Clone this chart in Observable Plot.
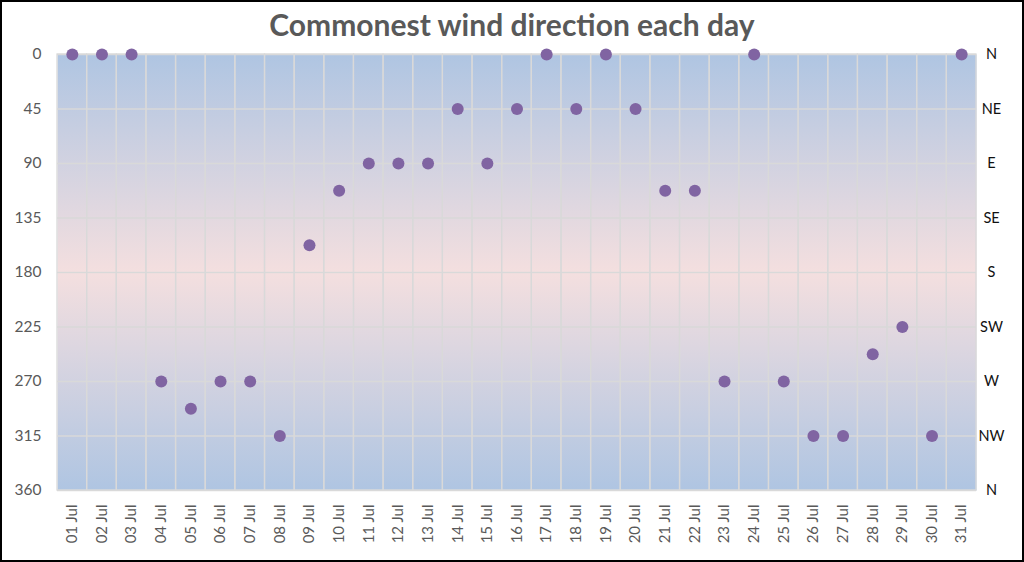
<!DOCTYPE html>
<html><head><meta charset="utf-8">
<script src="https://cdn.jsdelivr.net/npm/d3@7"></script>
<script src="https://cdn.jsdelivr.net/npm/@observablehq/plot@0.6"></script>
<style>
body{margin:0;background:#fff;}
#wrap{width:1024px;height:562px;box-sizing:border-box;border:2px solid #000;font-family:Lato,sans-serif;overflow:hidden;background:#fff}
#title{height:40px;line-height:44px;text-align:center;font-weight:bold;font-size:30px;color:#595959}
</style></head><body>
<div id="wrap"><div id="title">Commonest wind direction each day</div><div id="chart"></div></div>
<script>
const days = ["01 Jul","02 Jul","03 Jul","04 Jul","05 Jul","06 Jul","07 Jul","08 Jul","09 Jul","10 Jul",
  "11 Jul","12 Jul","13 Jul","14 Jul","15 Jul","16 Jul","17 Jul","18 Jul","19 Jul","20 Jul",
  "21 Jul","22 Jul","23 Jul","24 Jul","25 Jul","26 Jul","27 Jul","28 Jul","29 Jul","30 Jul","31 Jul"];
const directions = [0,0,0,270,292.5,270,270,315,157.5,112.5,
  90,90,90,45,90,45,0,45,0,45,
  112.5,112.5,270,0,270,315,315,247.5,225,315,0];
const degreeTicks = [0,45,90,135,180,225,270,315,360];
const compassLabels = ["N","NE","E","SE","S","SW","W","NW","N"];

const data = days.map((d,i)=>({day:d, dir:directions[i]}));

const svg = Plot.plot({
  width: 1020,
  height: 518,
  marginTop: 12,
  marginBottom: 70,
  marginLeft: 55,
  marginRight: 46,
  style: {fontFamily: "Lato, sans-serif", fontSize: "15px", background: "transparent", overflow: "visible"},
  x: {type: "band", domain: days, padding: 0, round: false, label: null},
  y: {domain: [0, 360], reverse: true, label: null},
  marks: [
    Plot.frame({fill: "url(#bgGrad)", stroke: "none"}),
    Plot.cell(days, {x: d => d, fill: "none", stroke: "#d9d9d9", strokeWidth: 1.3}),
    Plot.ruleY(degreeTicks, {stroke: "#d9d9d9", strokeWidth: 1.3}),
    Plot.axisY({anchor: "left", ticks: degreeTicks, tickSize: 0, tickPadding: 16, fontSize: 15.5, fill: "#595959", label: null}),
    Plot.axisY({anchor: "right", ticks: degreeTicks, tickSize: 0, tickPadding: 15, textAnchor: "middle",
      tickFormat: d => compassLabels[degreeTicks.indexOf(d)], fontSize: 14.5, fill: "#111", label: null}),
    Plot.axisX({tickRotate: -90, tickSize: 0, tickPadding: 14, fontSize: 15, fill: "#595959", label: null}),
    Plot.dot(data, {x: "day", y: "dir", r: 6, fill: "#8064a2", stroke: "none"})
  ]
});

const defs = d3.select(svg).insert("defs", ":first-child");
const g = defs.append("linearGradient").attr("id", "bgGrad").attr("x1", 0).attr("y1", 0).attr("x2", 0).attr("y2", 1);
g.append("stop").attr("offset", "0%").attr("stop-color", "#afc5e2");
g.append("stop").attr("offset", "50%").attr("stop-color", "#f4dfdf");
g.append("stop").attr("offset", "100%").attr("stop-color", "#afc5e2");

document.getElementById("chart").appendChild(svg);
</script>
</body></html>
